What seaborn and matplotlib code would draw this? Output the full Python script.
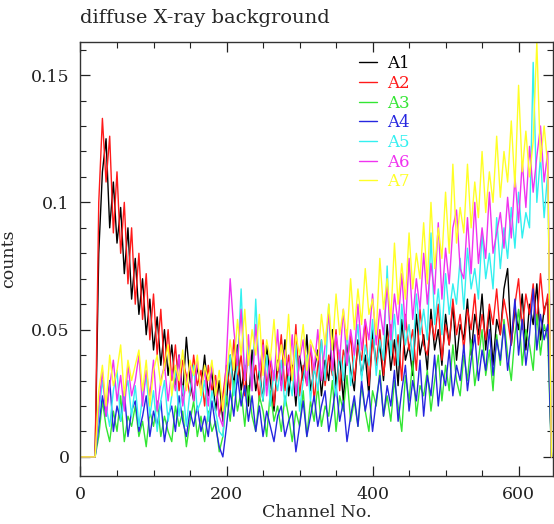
import matplotlib
matplotlib.use("Agg")
import matplotlib.pyplot as plt
from matplotlib.ticker import MultipleLocator
import pandas as pd
import seaborn as sns

# Channel grid (every 5th channel)
channels = list(range(0, 650, 5))

series_names = ["A1", "A2", "A3", "A4", "A5", "A6", "A7"]
series_colors = ["#000000", "#ff1a1a", "#33e633", "#2626e0", "#33f0f0", "#f033f0", "#ffff26"]

A1 = [0.0, 0.0, 0.0, 0.0, 0.0,
      0.080, 0.112, 0.125, 0.090, 0.108, 0.084, 0.098, 0.072, 0.090, 0.062,
      0.078, 0.056, 0.070, 0.048, 0.062, 0.042, 0.055, 0.036, 0.050, 0.032,
      0.044, 0.028, 0.040, 0.024, 0.047, 0.030, 0.022, 0.036, 0.026, 0.040,
      0.024, 0.034, 0.018, 0.030, 0.014, 0.022, 0.040, 0.028, 0.044, 0.026,
      0.036, 0.020, 0.042, 0.026, 0.034, 0.022, 0.044, 0.030, 0.018, 0.038,
      0.028, 0.046, 0.024, 0.036, 0.020, 0.040, 0.030, 0.048, 0.026, 0.034,
      0.042, 0.024, 0.038, 0.030, 0.050, 0.028, 0.040, 0.022, 0.044, 0.034,
      0.026, 0.046, 0.032, 0.040, 0.024, 0.050, 0.036, 0.044, 0.030, 0.052,
      0.034, 0.046, 0.028, 0.054, 0.038, 0.044, 0.032, 0.056, 0.040, 0.048,
      0.034, 0.058, 0.042, 0.050, 0.036, 0.056, 0.044, 0.060, 0.038, 0.052,
      0.046, 0.062, 0.040, 0.056, 0.048, 0.064, 0.042, 0.058, 0.036, 0.054,
      0.048, 0.066, 0.074, 0.044, 0.058, 0.050, 0.064, 0.042, 0.060, 0.052,
      0.068, 0.046, 0.058, 0.062,
      0.0]

A2 = [0.0, 0.0, 0.0, 0.0, 0.0,
      0.100, 0.133, 0.108, 0.126, 0.088, 0.112, 0.080, 0.100, 0.068, 0.090,
      0.060, 0.080, 0.054, 0.072, 0.046, 0.064, 0.040, 0.058, 0.034, 0.050,
      0.030, 0.044, 0.026, 0.038, 0.032, 0.024, 0.040, 0.028, 0.034, 0.020,
      0.036, 0.026, 0.032, 0.016, 0.024, 0.036, 0.026, 0.046, 0.030, 0.040,
      0.024, 0.044, 0.030, 0.036, 0.022, 0.046, 0.028, 0.038, 0.020, 0.034,
      0.048, 0.026, 0.040, 0.030, 0.052, 0.024, 0.036, 0.028, 0.044, 0.022,
      0.036, 0.046, 0.028, 0.040, 0.032, 0.050, 0.026, 0.042, 0.036, 0.048,
      0.030, 0.044, 0.038, 0.054, 0.028, 0.046, 0.036, 0.050, 0.032, 0.044,
      0.052, 0.036, 0.048, 0.030, 0.056, 0.042, 0.050, 0.034, 0.058, 0.044,
      0.040, 0.054, 0.046, 0.060, 0.038, 0.052, 0.044, 0.062, 0.048, 0.056,
      0.042, 0.058, 0.050, 0.064, 0.044, 0.056, 0.046, 0.060, 0.052, 0.066,
      0.048, 0.062, 0.054, 0.044, 0.060, 0.070, 0.050, 0.064, 0.056, 0.068,
      0.052, 0.072, 0.056, 0.064,
      0.0]

A3 = [0.0, 0.0, 0.0, 0.0, 0.0,
      0.008, 0.022, 0.012, 0.006, 0.018, 0.010, 0.024, 0.006, 0.016, 0.012,
      0.020, 0.008, 0.014, 0.004, 0.018, 0.012, 0.022, 0.008, 0.016, 0.010,
      0.006, 0.020, 0.012, 0.018, 0.004, 0.014, 0.022, 0.008, 0.016, 0.006,
      0.018, 0.010, 0.014, 0.002, 0.008, 0.024, 0.014, 0.030, 0.018, 0.026,
      0.012, 0.028, 0.016, 0.010, 0.024, 0.018, 0.008, 0.026, 0.014, 0.020,
      0.010, 0.024, 0.016, 0.006, 0.018, 0.012, 0.026, 0.008, 0.022, 0.014,
      0.028, 0.012, 0.020, 0.016, 0.030, 0.010, 0.024, 0.018, 0.032, 0.014,
      0.022, 0.012, 0.028, 0.018, 0.010, 0.026, 0.020, 0.034, 0.016, 0.024,
      0.014, 0.030, 0.020, 0.010, 0.032, 0.022, 0.038, 0.016, 0.028, 0.024,
      0.034, 0.018, 0.030, 0.040, 0.022, 0.036, 0.026, 0.044, 0.030, 0.024,
      0.040, 0.030, 0.046, 0.028, 0.038, 0.050, 0.032, 0.042, 0.026, 0.048,
      0.036, 0.054, 0.040, 0.030, 0.048, 0.058, 0.036, 0.050, 0.044, 0.034,
      0.056, 0.040, 0.052, 0.046,
      0.0]

A4 = [0.0, 0.0, 0.0, 0.0, 0.0,
      0.012, 0.024, 0.016, 0.030, 0.010, 0.020, 0.014, 0.026, 0.008, 0.018,
      0.022, 0.010, 0.016, 0.024, 0.008, 0.018, 0.012, 0.022, 0.006, 0.016,
      0.020, 0.010, 0.024, 0.014, 0.008, 0.018, 0.012, 0.020, 0.010, 0.016,
      0.008, 0.022, 0.012, 0.004, 0.000, 0.012, 0.026, 0.016, 0.032, 0.020,
      0.028, 0.014, 0.024, 0.010, 0.020, 0.008, 0.018, 0.012, 0.006, 0.016,
      0.020, 0.008, 0.014, 0.018, 0.002, 0.012, 0.022, 0.008, 0.016, 0.024,
      0.012, 0.020, 0.026, 0.010, 0.018, 0.028, 0.014, 0.022, 0.006, 0.016,
      0.024, 0.012, 0.030, 0.018, 0.026, 0.010, 0.022, 0.032, 0.016, 0.028,
      0.020, 0.034, 0.014, 0.026, 0.036, 0.018, 0.030, 0.022, 0.038, 0.016,
      0.032, 0.024, 0.040, 0.020, 0.034, 0.028, 0.042, 0.024, 0.036, 0.030,
      0.044, 0.026, 0.038, 0.048, 0.030, 0.042, 0.034, 0.050, 0.032, 0.046,
      0.038, 0.052, 0.034, 0.046, 0.062, 0.040, 0.054, 0.036, 0.048, 0.066,
      0.042, 0.056, 0.046, 0.052,
      0.0]

A5 = [0.0, 0.0, 0.0, 0.0, 0.0,
      0.016, 0.030, 0.020, 0.012, 0.026, 0.034, 0.014, 0.024, 0.030, 0.016,
      0.028, 0.012, 0.024, 0.032, 0.016, 0.026, 0.010, 0.022, 0.030, 0.014,
      0.024, 0.034, 0.016, 0.028, 0.012, 0.026, 0.036, 0.018, 0.022, 0.030,
      0.014, 0.026, 0.018, 0.010, 0.008, 0.030, 0.040, 0.024, 0.036, 0.066,
      0.030, 0.044, 0.026, 0.062, 0.032, 0.022, 0.040, 0.020, 0.034, 0.026,
      0.038, 0.020, 0.032, 0.024, 0.044, 0.018, 0.030, 0.040, 0.022, 0.036,
      0.026, 0.046, 0.030, 0.060, 0.034, 0.024, 0.042, 0.030, 0.050, 0.028,
      0.040, 0.052, 0.030, 0.044, 0.036, 0.054, 0.032, 0.046, 0.038, 0.075,
      0.040, 0.056, 0.036, 0.060, 0.044, 0.052, 0.038, 0.064, 0.048, 0.058,
      0.046, 0.088, 0.052, 0.066, 0.048, 0.072, 0.056, 0.068, 0.060, 0.078,
      0.058, 0.082, 0.066, 0.074, 0.062, 0.088, 0.070, 0.080, 0.066, 0.094,
      0.074, 0.090, 0.078, 0.098, 0.082, 0.104, 0.086, 0.096, 0.090, 0.155,
      0.100, 0.118, 0.094, 0.112,
      0.0]

A6 = [0.0, 0.0, 0.0, 0.0, 0.0,
      0.020, 0.034, 0.016, 0.028, 0.038, 0.022, 0.032, 0.018, 0.036, 0.024,
      0.030, 0.040, 0.020, 0.034, 0.024, 0.038, 0.018, 0.030, 0.036, 0.022,
      0.034, 0.026, 0.040, 0.020, 0.030, 0.036, 0.022, 0.038, 0.026, 0.034,
      0.020, 0.036, 0.028, 0.016, 0.012, 0.040, 0.070, 0.050, 0.036, 0.058,
      0.030, 0.048, 0.026, 0.052, 0.034, 0.044, 0.024, 0.040, 0.030, 0.050,
      0.026, 0.042, 0.032, 0.048, 0.024, 0.038, 0.046, 0.028, 0.044, 0.034,
      0.050, 0.030, 0.044, 0.056, 0.034, 0.048, 0.038, 0.058, 0.036, 0.050,
      0.040, 0.060, 0.042, 0.054, 0.046, 0.064, 0.044, 0.058, 0.048, 0.068,
      0.046, 0.064, 0.052, 0.072, 0.050, 0.078, 0.054, 0.070, 0.058, 0.080,
      0.060, 0.076, 0.064, 0.092, 0.062, 0.082, 0.068, 0.090, 0.097, 0.074,
      0.070, 0.094, 0.072, 0.100, 0.076, 0.090, 0.078, 0.104, 0.080, 0.088,
      0.096, 0.082, 0.102, 0.086, 0.110, 0.092, 0.116, 0.098, 0.122, 0.104,
      0.118, 0.130, 0.108, 0.120,
      0.0]

A7 = [0.0, 0.0, 0.0, 0.0, 0.0,
      0.026, 0.036, 0.020, 0.040, 0.028, 0.034, 0.044, 0.024, 0.038, 0.030,
      0.036, 0.042, 0.026, 0.038, 0.020, 0.034, 0.040, 0.028, 0.036, 0.044,
      0.024, 0.036, 0.030, 0.042, 0.026, 0.038, 0.032, 0.040, 0.024, 0.036,
      0.030, 0.038, 0.024, 0.034, 0.018, 0.032, 0.046, 0.034, 0.054, 0.040,
      0.058, 0.036, 0.050, 0.040, 0.056, 0.032, 0.046, 0.038, 0.054, 0.034,
      0.044, 0.036, 0.056, 0.030, 0.048, 0.040, 0.052, 0.034, 0.046, 0.042,
      0.038, 0.056, 0.044, 0.060, 0.042, 0.064, 0.048, 0.058, 0.046, 0.070,
      0.050, 0.066, 0.052, 0.074, 0.056, 0.062, 0.048, 0.078, 0.058, 0.070,
      0.054, 0.084, 0.060, 0.076, 0.062, 0.088, 0.066, 0.080, 0.070, 0.092,
      0.068, 0.100, 0.074, 0.090, 0.078, 0.104, 0.080, 0.115, 0.084, 0.098,
      0.088, 0.115, 0.090, 0.108, 0.094, 0.120, 0.096, 0.112, 0.100, 0.126,
      0.102, 0.120, 0.108, 0.132, 0.106, 0.146, 0.112, 0.128, 0.110, 0.124,
      0.163, 0.116, 0.130, 0.114,
      0.0]

series_values = [A1, A2, A3, A4, A5, A6, A7]

frames = []
for name, vals in zip(series_names, series_values):
    frames.append(pd.DataFrame({"channel": channels, "counts": vals, "series": name}))
df = pd.concat(frames, ignore_index=True)

sns.set_style("ticks")
plt.rcParams["font.family"] = ["DejaVu Serif"]

fig = plt.figure(figsize=(5.54, 5.24), dpi=100)
ax = fig.add_axes([0.1453, 0.0916, 0.8527, 0.8282])

sns.lineplot(data=df, x="channel", y="counts", hue="series", hue_order=series_names,
             palette=series_colors, estimator=None, sort=False, linewidth=1.0, ax=ax)

ax.set_xlim(0, 647)
ax.set_ylim(-0.0075, 0.163)
ax.xaxis.set_major_locator(MultipleLocator(200))
ax.xaxis.set_minor_locator(MultipleLocator(50))
ax.yaxis.set_major_locator(MultipleLocator(0.05))
ax.yaxis.set_minor_locator(MultipleLocator(0.01))
ax.yaxis.set_major_formatter(plt.FuncFormatter(lambda v, p: "0" if abs(v) < 1e-9 else f"{v:g}"))
ax.tick_params(which="both", direction="in", top=True, right=True, labelsize=12.5,
               colors="#222222")
ax.tick_params(axis="y", which="major", pad=8)
ax.tick_params(axis="x", which="major", pad=7)
ax.tick_params(which="major", length=7, width=0.9)
ax.tick_params(which="minor", length=4, width=0.8)
for s in ax.spines.values():
    s.set_linewidth(1.0)
    s.set_color("#333333")

ax.set_xlabel("Channel No.", fontsize=12.5, labelpad=1)
ax.set_ylabel("counts", fontsize=12.5, labelpad=10)
fig.text(0.1453, 0.966, "diffuse X-ray background", fontsize=14, ha="left", va="center")

handles, labels = ax.get_legend_handles_labels()
ax.legend(handles, labels, loc="upper left", bbox_to_anchor=(0.557, 1.004), frameon=False,
          handlelength=1.1, handletextpad=0.6, labelspacing=0.16, fontsize=12,
          labelcolor="linecolor")

fig.savefig("out.png", dpi=100)
